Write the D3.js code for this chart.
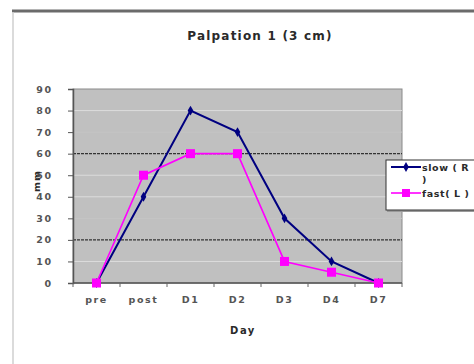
<!DOCTYPE html>
<html>
<head>
<meta charset="utf-8">
<script src="https://cdn.jsdelivr.net/npm/d3@7"></script>
<style>
  body { margin: 0; background: #fff; }
  svg text { font-family: "DejaVu Sans", "Liberation Sans", sans-serif; font-weight: bold; fill: #2a2a2a; }
</style>
</head>
<body>
<div id="chart"></div>
<script>
// data
var days = ["pre", "post", "D1", "D2", "D3", "D4", "D7"];
var slowValues = [0, 40, 80, 70, 30, 10, 0];
var fastValues = [0, 50, 60, 60, 10, 5, 0];
var yTicks = [0, 10, 20, 30, 40, 50, 60, 70, 80, 90];

function init() {
    var width = 474;
    var height = 364;

    var svg = d3.select("#chart")
        .append("svg")
        .attr("width", width)
        .attr("height", height);

    // outer frame (top dark rule, left light rule)
    svg.append("line").attr("x1", 12).attr("x2", width).attr("y1", 11).attr("y2", 11)
        .style("stroke", "#6b6b6b").style("stroke-width", 3);
    svg.append("line").attr("x1", 13).attr("x2", 13).attr("y1", 12).attr("y2", height)
        .style("stroke", "#cfcfcf").style("stroke-width", 1.5);

    var plot = { left: 73, right: 402, top: 89, bottom: 283 };

    var x = d3.scaleBand()
        .domain(days)
        .range([plot.left, plot.right]);

    var y = d3.scaleLinear()
        .domain([0, 90])
        .range([plot.bottom, plot.top]);

    // plot background
    svg.append("rect")
        .attr("x", plot.left).attr("y", plot.top)
        .attr("width", plot.right - plot.left).attr("height", plot.bottom - plot.top)
        .style("fill", "#c0c0c0")
        .style("stroke", "#8a8a8a")
        .style("stroke-width", 1);

    // gridlines
    svg.append("g").selectAll("line")
        .data(yTicks.filter(function (d) { return d > 0 && d < 90; }))
        .enter()
        .append("line")
        .attr("x1", plot.left).attr("x2", plot.right)
        .attr("y1", function (d) { return y(d); })
        .attr("y2", function (d) { return y(d); })
        .style("stroke", function (d) {
            if (d === 20 || d === 60) return "#333";
            if (d === 30 || d === 70) return "#c4c4c4";
            return "#dcdcdc";
        })
        .style("stroke-width", function (d) { return (d === 20 || d === 60) ? 1.2 : 1; })
        .style("stroke-dasharray", function (d) { return (d === 20 || d === 60) ? "3,1" : null; });

    // y axis
    var yAxis = d3.axisLeft(y)
        .tickValues(yTicks)
        .tickSize(5)
        .tickPadding(15);

    var yg = svg.append("g")
        .attr("transform", "translate(" + plot.left + ",0)")
        .call(yAxis);
    yg.select(".domain").style("stroke", "#555").style("stroke-width", 1.5);
    yg.selectAll(".tick line").style("stroke", "#555");
    yg.selectAll("text")
        .style("font-family", "'DejaVu Sans', sans-serif")
        .style("font-weight", "bold")
        .style("font-size", "9.5px")
        .style("letter-spacing", "1.8px")
        .style("fill", "#555");

    // x axis with ticks between categories
    var xg = svg.append("g")
        .attr("transform", "translate(0," + plot.bottom + ")");
    xg.append("line")
        .attr("x1", plot.left).attr("x2", plot.right)
        .style("stroke", "#555").style("stroke-width", 1.5);
    xg.selectAll(".sep")
        .data(days)
        .enter()
        .append("line")
        .attr("class", "sep")
        .attr("x1", function (d) { return x(d); })
        .attr("x2", function (d) { return x(d); })
        .attr("y1", 0).attr("y2", 4)
        .style("stroke", "#666");
    xg.append("line")
        .attr("x1", plot.right).attr("x2", plot.right)
        .attr("y1", 0).attr("y2", 4)
        .style("stroke", "#666");
    xg.selectAll("text")
        .data(days)
        .enter()
        .append("text")
        .attr("x", function (d) { return x(d) + x.bandwidth() / 2; })
        .attr("y", 20)
        .attr("text-anchor", "middle")
        .style("font-size", "9.5px")
        .style("letter-spacing", "1.6px")
        .style("fill", "#555")
        .text(function (d) { return d; });

    // titles
    svg.append("text")
        .attr("x", 260).attr("y", 40)
        .attr("text-anchor", "middle")
        .style("font-size", "12px")
        .style("letter-spacing", "1.2px")
        .text("Palpation 1 (3 cm)");

    svg.append("text")
        .attr("x", 243).attr("y", 334)
        .attr("text-anchor", "middle")
        .style("font-size", "10px")
        .style("letter-spacing", "1.5px")
        .text("Day");

    svg.append("text")
        .attr("transform", "translate(40,181) rotate(-90)")
        .attr("text-anchor", "middle")
        .style("font-size", "9.5px")
        .style("letter-spacing", "1px")
        .text("mm");

    var line = d3.line()
        .x(function (d, i) { return x(days[i]) + x.bandwidth() / 2; })
        .y(function (d) { return y(d); });

    // slow series
    svg.append("path")
        .datum(slowValues)
        .attr("d", line)
        .style("fill", "none")
        .style("stroke", "#000080")
        .style("stroke-width", 2);

    // fast series
    svg.append("path")
        .datum(fastValues)
        .attr("d", line)
        .style("fill", "none")
        .style("stroke", "#ff00ff")
        .style("stroke-width", 1.6);

    var diamond = d3.symbol().type(d3.symbolDiamond).size(28);
    svg.append("g").selectAll("path")
        .data(slowValues)
        .enter()
        .append("path")
        .attr("d", diamond)
        .attr("transform", function (d, i) {
            return "translate(" + (x(days[i]) + x.bandwidth() / 2) + "," + y(d) + ")";
        })
        .style("fill", "#000080");

    svg.append("g").selectAll("rect")
        .data(fastValues)
        .enter()
        .append("rect")
        .attr("x", function (d, i) { return x(days[i]) + x.bandwidth() / 2 - 4.5; })
        .attr("y", function (d) { return y(d) - 4.5; })
        .attr("width", 9).attr("height", 9)
        .style("fill", "#ff00ff");

    // legend
    var legend = svg.append("g").attr("transform", "translate(386,160)");
    legend.append("rect")
        .attr("x", 1).attr("y", 2)
        .attr("width", 92).attr("height", 50)
        .style("fill", "#9a9a9a");
    legend.append("rect")
        .attr("width", 92).attr("height", 50)
        .style("fill", "#fff")
        .style("stroke", "#333")
        .style("stroke-width", 1);

    legend.append("line").attr("x1", 5).attr("x2", 35).attr("y1", 7).attr("y2", 7)
        .style("stroke", "#000080").style("stroke-width", 2);
    legend.append("path").attr("d", diamond)
        .attr("transform", "translate(20,7)").style("fill", "#000080");
    legend.append("text").attr("x", 36).attr("y", 11)
        .style("font-size", "9.5px").style("letter-spacing", "0.6px").text("slow ( R");
    legend.append("text").attr("x", 36).attr("y", 23)
        .style("font-size", "9.5px").text(")");

    legend.append("line").attr("x1", 5).attr("x2", 35).attr("y1", 33).attr("y2", 33)
        .style("stroke", "#ff00ff").style("stroke-width", 1.6);
    legend.append("rect").attr("x", 16).attr("y", 29).attr("width", 8).attr("height", 8)
        .style("fill", "#ff00ff");
    legend.append("text").attr("x", 36).attr("y", 37)
        .style("font-size", "9.5px").style("letter-spacing", "0.6px").text("fast( L )");
}

window.onload = init;
</script>
</body>
</html>
